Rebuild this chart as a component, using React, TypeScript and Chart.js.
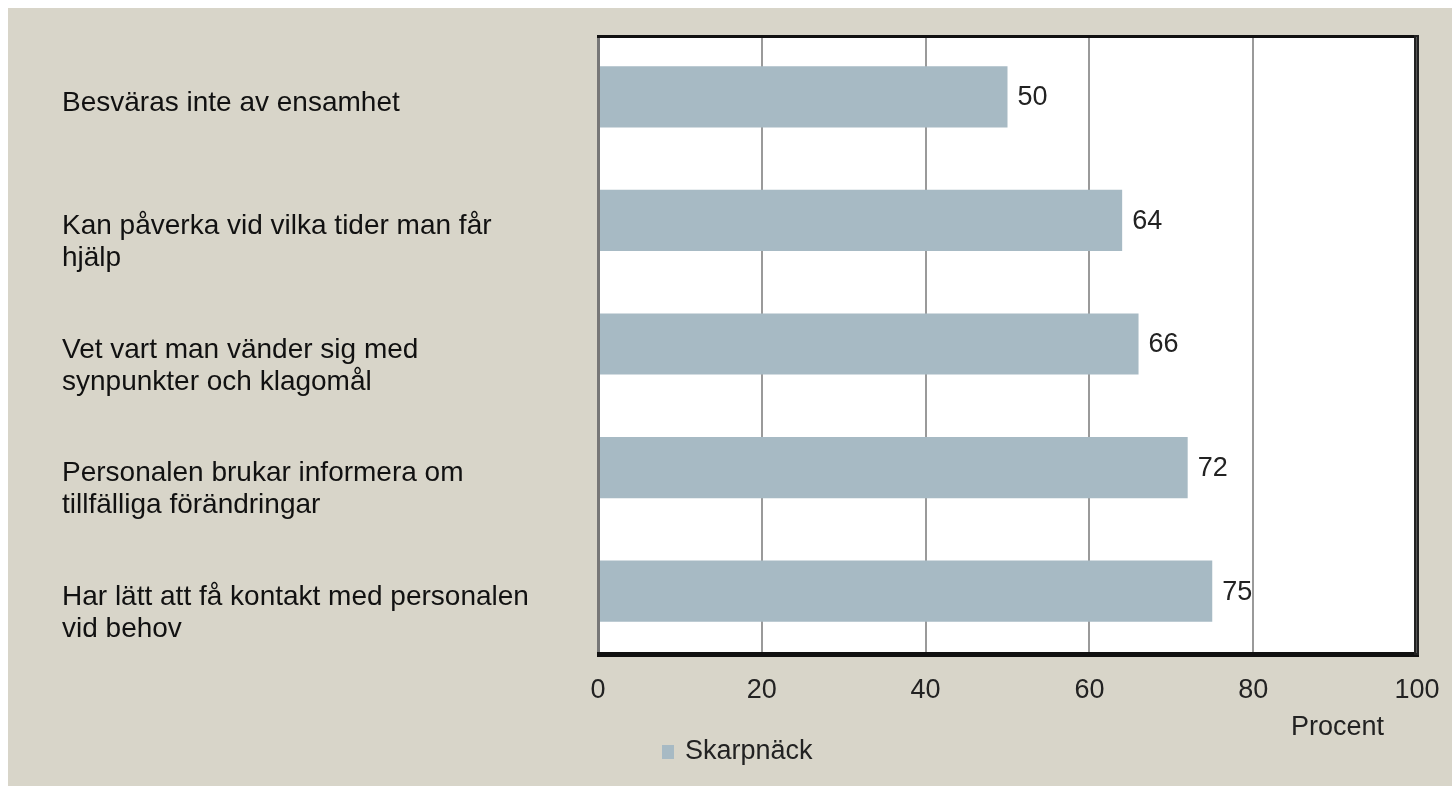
import React, { useEffect, useRef } from "react";
import { Chart, registerables } from "chart.js";

Chart.register(...registerables);

const categories: string[][] = [
  ["Besväras inte av ensamhet"],
  ["Kan påverka vid vilka tider man får", "hjälp"],
  ["Vet vart man vänder sig med", "synpunkter och klagomål"],
  ["Personalen brukar informera om", "tillfälliga förändringar"],
  ["Har lätt att få kontakt med personalen", "vid behov"],
];
const values: number[] = [50, 64, 66, 72, 75];
const seriesName = "Skarpnäck";
const axisTitle = "Procent";
const xMin = 0;
const xMax = 100;
const xStep = 20;

const BG = "#d8d5c9";
const BAR = "#a7bac4";
const TICK_FONT = "27px 'Liberation Sans', Arial, sans-serif";
const LABEL_FONT = "28px 'Liberation Sans', Arial, sans-serif";

const decorPlugin = {
  id: "decor",
  beforeDraw(chart: any) {
    const { ctx, chartArea: a } = chart;
    ctx.save();
    ctx.fillStyle = "#ffffff";
    ctx.fillRect(a.left, a.top, a.right - a.left, a.bottom - a.top);
    ctx.restore();
  },
  afterDatasetsDraw(chart: any) {
    const { ctx, chartArea: a } = chart;
    const meta = chart.getDatasetMeta(0);
    ctx.save();
    // value labels
    ctx.font = TICK_FONT;
    ctx.fillStyle = "#222";
    ctx.textAlign = "left";
    ctx.textBaseline = "middle";
    meta.data.forEach((bar: any, i: number) => {
      ctx.fillText(String(values[i]), bar.x + 10, bar.y + 1);
    });
    // frame
    const w = a.right - a.left;
    const h = a.bottom - a.top;
    ctx.fillStyle = "#777";
    ctx.fillRect(a.left - 1, a.top, 3, h);
    ctx.fillStyle = "#111";
    ctx.fillRect(a.left - 1, a.top, w, 3);
    ctx.fillRect(a.left - 1, a.bottom - 1, w + 3, 5);
    ctx.fillStyle = "#222";
    ctx.fillRect(a.right - 3, a.top, 5, h + 2);
    ctx.fillStyle = "#555";
    ctx.fillRect(a.right - 1, a.top + 2, 1, h - 2);
    // category labels
    const yScale = chart.scales.y;
    ctx.font = LABEL_FONT;
    ctx.fillStyle = "#111";
    ctx.textAlign = "left";
    ctx.textBaseline = "middle";
    categories.forEach((lines, i) => {
      const cy = yScale.getPixelForValue(i) + 6;
      lines.forEach((line, j) => {
        ctx.fillText(line, 54, cy + j * 32);
      });
    });
    // axis title
    ctx.font = TICK_FONT;
    ctx.fillStyle = "#222";
    ctx.textAlign = "right";
    ctx.fillText(axisTitle, a.right - 33, a.bottom + 75);
    // legend
    const ly = a.bottom + 99;
    ctx.fillStyle = BAR;
    ctx.fillRect(a.left + 64, ly - 7, 12, 14);
    ctx.fillStyle = "#222";
    ctx.textAlign = "left";
    ctx.fillText(seriesName, a.left + 87, ly);
    ctx.restore();
  },
};

export default function App() {
  const ref = useRef<HTMLCanvasElement | null>(null);
  useEffect(() => {
    if (!ref.current) return;
    const chart = new Chart(ref.current, {
      type: "bar",
      data: {
        labels: categories.map((c) => c.join(" ")),
        datasets: [
          {
            label: seriesName,
            data: values,
            backgroundColor: BAR,
            borderWidth: 0,
            barPercentage: 0.495,
            categoryPercentage: 1,
          },
        ],
      },
      options: {
        indexAxis: "y",
        animation: false,
        responsive: false,
        maintainAspectRatio: false,
        layout: { padding: { top: 27, right: 35, left: 0, bottom: 0 } },
        plugins: { legend: { display: false }, tooltip: { enabled: false } },
        scales: {
          x: {
            min: xMin,
            max: xMax,
            ticks: {
              stepSize: xStep,
              font: { family: "'Liberation Sans', Arial, sans-serif", size: 27 },
              color: "#222",
              padding: 21,
              maxRotation: 0,
            },
            grid: {
              drawTicks: false,
              color: (c: any) =>
                c.tick && (c.tick.value === xMin || c.tick.value === xMax) ? "rgba(0,0,0,0)" : "#9a9a9a",
              lineWidth: 2,
            },
            border: { display: false },
            afterFit: (s: any) => {
              s.height = 133;
              s.paddingLeft = 0;
              s.paddingRight = 0;
            },
          },
          y: {
            ticks: { display: false },
            grid: { display: false, drawTicks: false },
            border: { display: false },
            afterFit: (s: any) => {
              s.width = 590;
              s.paddingTop = 0;
              s.paddingBottom = 0;
            },
          },
        },
      },
      plugins: [decorPlugin],
    });
    return () => chart.destroy();
  }, []);
  return (
    <div
      style={{
        position: "absolute",
        left: 8,
        top: 8,
        width: 1444,
        height: 778,
        background: BG,
      }}
    >
      <canvas ref={ref} width={1444} height={778} style={{ display: "block" }} />
    </div>
  );
}
